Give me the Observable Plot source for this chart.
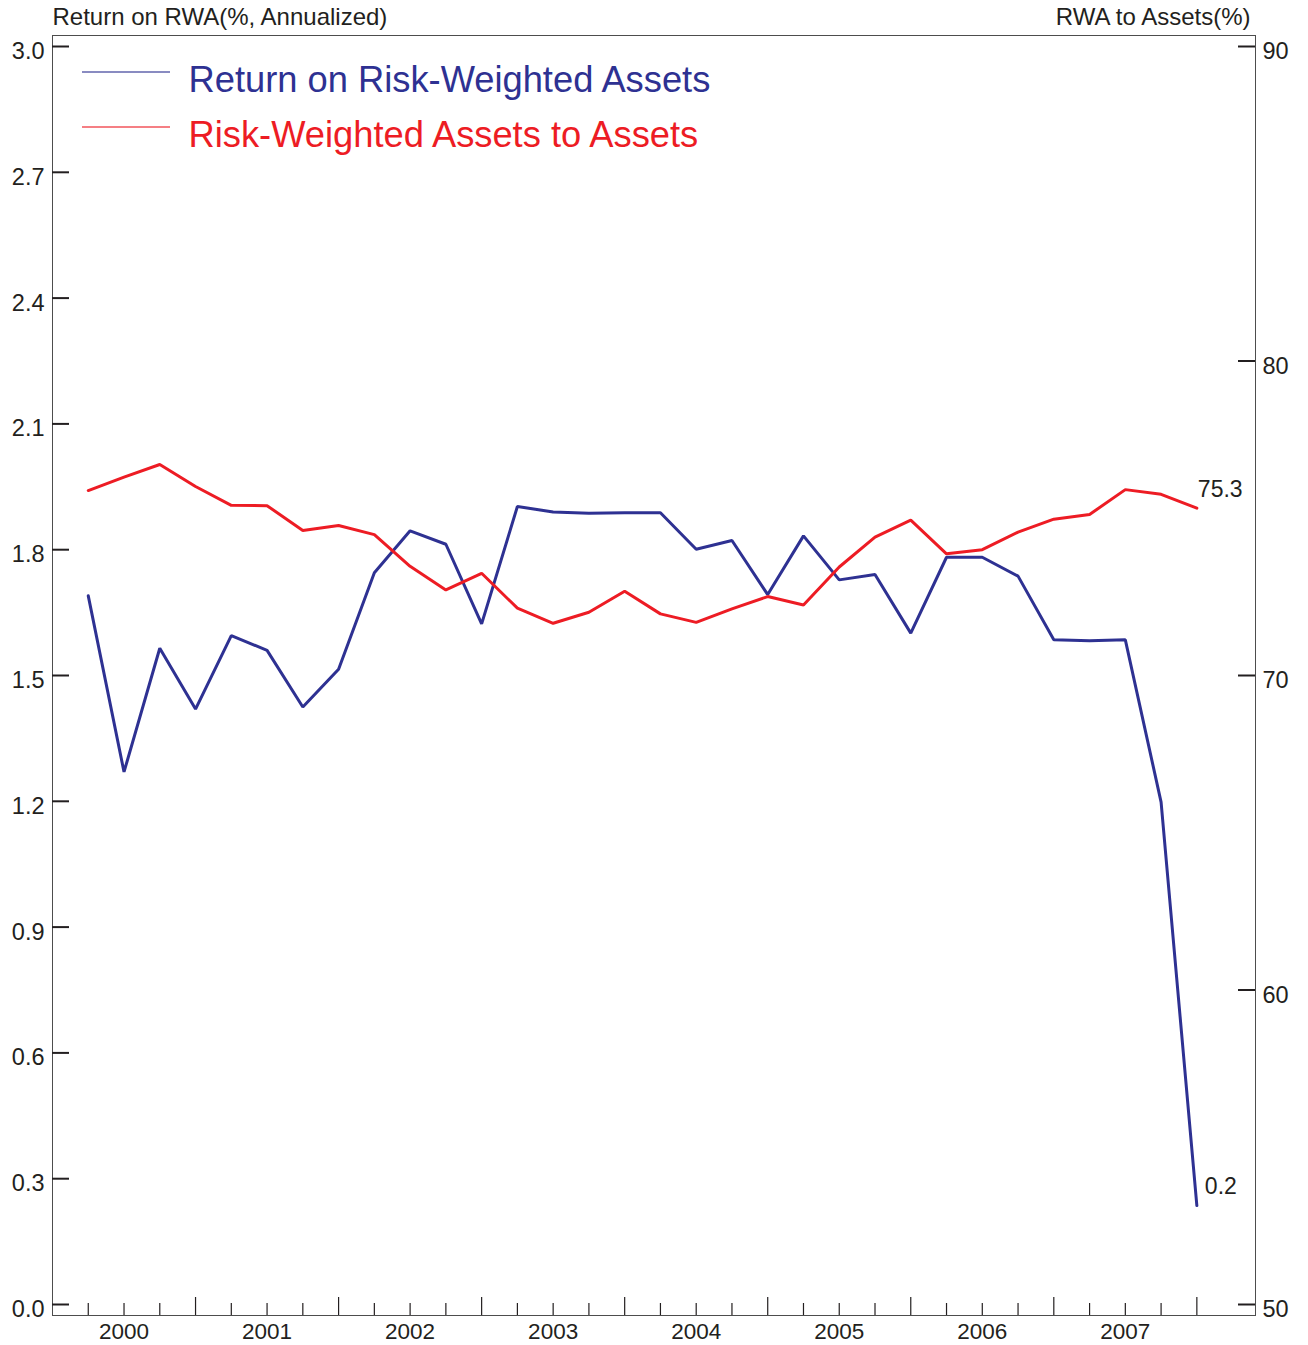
<!DOCTYPE html>
<html><head><meta charset="utf-8">
<script src="https://cdn.jsdelivr.net/npm/d3@7"></script>
<script src="https://cdn.jsdelivr.net/npm/@observablehq/plot@0.6"></script>
<style>
body{margin:0;background:#fff}
#chart{width:1308px;height:1345px}
</style>
</head><body><div id="chart"></div>
<script>
// Quarterly observations
const quarters = [
  "2000Q1","2000Q2","2000Q3","2000Q4",
  "2001Q1","2001Q2","2001Q3","2001Q4",
  "2002Q1","2002Q2","2002Q3","2002Q4",
  "2003Q1","2003Q2","2003Q3","2003Q4",
  "2004Q1","2004Q2","2004Q3","2004Q4",
  "2005Q1","2005Q2","2005Q3","2005Q4",
  "2006Q1","2006Q2","2006Q3","2006Q4",
  "2007Q1","2007Q2","2007Q3","2007Q4"
];
// Return on Risk-Weighted Assets (%, annualized) — left axis
const returnOnRWA = [
  1.69, 1.27, 1.565, 1.42,
  1.595, 1.56, 1.425, 1.515,
  1.745, 1.845, 1.813, 1.623,
  1.903, 1.89, 1.887, 1.888,
  1.888, 1.801, 1.822, 1.693,
  1.833, 1.728, 1.741, 1.601,
  1.782, 1.782, 1.737, 1.585,
  1.583, 1.585, 1.198, 0.236
];
// Risk-Weighted Assets to Assets (%) — right axis
const rwaToAssets = [
  75.88, 76.31, 76.71, 76.01,
  75.41, 75.40, 74.61, 74.77,
  74.48, 73.47, 72.72, 73.25,
  72.14, 71.66, 72.01, 72.68,
  71.96, 71.69, 72.12, 72.51,
  72.24, 73.45, 74.40, 74.94,
  73.87, 74.00, 74.56, 74.97,
  75.12, 75.91, 75.76, 75.32
];
const leftTicks = [0.0, 0.3, 0.6, 0.9, 1.2, 1.5, 1.8, 2.1, 2.4, 2.7, 3.0];
const rightTicks = [50, 60, 70, 80, 90];
const yearLabels = [2000, 2001, 2002, 2003, 2004, 2005, 2006, 2007];
const leftTitle = "Return on RWA(%, Annualized)";
const rightTitle = "RWA to Assets(%)";
const seriesNames = ["Return on Risk-Weighted Assets", "Risk-Weighted Assets to Assets"];
const colors = ["#2e3192", "#ed1c24"];

// helpers
const qTime = q => +q.slice(0, 4) + (+q.slice(5)) / 4;      // quarter end as fractional year
const rightDomain = [50, 90], leftDomain = [0, 3];
const toLeft = v => (v - rightDomain[0]) / (rightDomain[1] - rightDomain[0]) * (leftDomain[1] - leftDomain[0]) + leftDomain[0];

const data = quarters.map((q, i) => ({q, t: qTime(q), roa: returnOnRWA[i], rwa: rwaToAssets[i]}));
const minorTicks = quarters.filter(q => !q.endsWith("Q4")).map(qTime);
const majorTicks = quarters.filter(q => q.endsWith("Q4")).map(qTime);
const last = data[data.length - 1];

const W = 1308, H = 1345, mT = 35, mB = 30, mL = 52, mR = 53;
const innerW = W - mL - mR, innerH = H - mT - mB;
const ink = "#231f20";

const chart = Plot.plot({
  width: W, height: H,
  marginTop: mT, marginBottom: mB, marginLeft: mL, marginRight: mR,
  x: {domain: [2000, 2008.41], axis: null},
  y: {domain: leftDomain, range: [1304, 46], axis: null},
  style: {fontFamily: "'Liberation Sans', Arial, Helvetica, sans-serif", fontSize: "22px", color: ink, background: "#fff"},
  marks: [
    Plot.frame({stroke: "#4d4d4d", strokeWidth: 1}),
    // y ticks (inward)
    Plot.ruleY(leftTicks, {y: d => d, insetRight: innerW - 17, stroke: ink, strokeWidth: 2}),
    Plot.ruleY(rightTicks, {y: d => toLeft(d), insetLeft: innerW - 17, stroke: ink, strokeWidth: 2}),
    // x ticks (upward from bottom)
    Plot.ruleX(minorTicks, {x: d => d, insetTop: innerH - 12, stroke: ink, strokeWidth: 1.2}),
    Plot.ruleX(majorTicks, {x: d => d, insetTop: innerH - 18, stroke: ink, strokeWidth: 1.2}),
    // tick labels
    Plot.text(leftTicks, {y: d => d, text: d => d.toFixed(1), frameAnchor: "left", textAnchor: "end", dx: -8, dy: 5, fontSize: 23.5, fill: ink}),
    Plot.text(rightTicks, {y: d => toLeft(d), text: d => String(d), frameAnchor: "right", textAnchor: "start", dx: 7, dy: 5, fontSize: 23.5, fill: ink}),
    Plot.text(yearLabels, {x: d => d + 0.5, text: d => String(d), frameAnchor: "bottom", lineAnchor: "top", dy: 8, fontSize: 22.5, fill: ink}),
    // axis titles
    Plot.text([leftTitle], {text: d => d, frameAnchor: "top-left", textAnchor: "start", lineAnchor: "bottom", dy: -11, fontSize: 24, fill: ink}),
    Plot.text([rightTitle], {text: d => d, frameAnchor: "top-right", textAnchor: "end", lineAnchor: "bottom", dx: -5, dy: -11, fontSize: 24, fill: ink}),
    // series
    Plot.line(data, {x: "t", y: "roa", stroke: colors[0], strokeWidth: 3, strokeLinejoin: "miter"}),
    Plot.line(data, {x: "t", y: d => toLeft(d.rwa), stroke: colors[1], strokeWidth: 3, strokeLinejoin: "miter"}),
    // end labels
    Plot.text([last], {x: "t", y: d => toLeft(d.rwa), text: d => d.rwa.toFixed(1), textAnchor: "start", lineAnchor: "bottom", dx: 1, dy: -11, fontSize: 23, fill: ink}),
    Plot.text([last], {x: "t", y: "roa", text: d => d.roa.toFixed(1), textAnchor: "start", lineAnchor: "bottom", dx: 8, dy: -12, fontSize: 23, fill: ink}),
    // legend labels
    Plot.text([seriesNames[0]], {text: d => d, frameAnchor: "top-left", textAnchor: "start", lineAnchor: "bottom", dx: 136, dy: 56, fontSize: 36.3, fill: colors[0]}),
    Plot.text([seriesNames[1]], {text: d => d, frameAnchor: "top-left", textAnchor: "start", lineAnchor: "bottom", dx: 136, dy: 111, fontSize: 36.3, fill: colors[1]})
  ]
});

// legend swatch lines
const svg = d3.select(chart);
[[72, colors[0]], [127, colors[1]]].forEach(([yy, c]) => {
  svg.append("line").attr("x1", mL + 30).attr("x2", mL + 118).attr("y1", yy).attr("y2", yy)
    .attr("stroke", c).attr("stroke-width", 1.3).attr("stroke-opacity", 0.75);
});

document.getElementById("chart").append(chart);
</script>
</body></html>
